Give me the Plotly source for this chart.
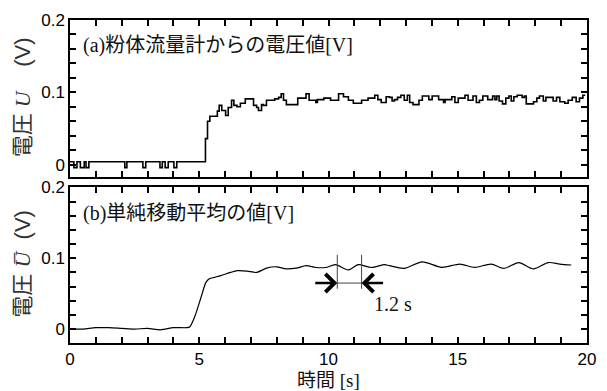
import plotly.graph_objects as go

# ---- data ----
# (a) powder flow meter voltage: step-wise signal, values hold until next time
t_flow = [0.00, 0.15, 0.27, 0.40, 0.55, 0.62, 0.73, 2.12, 2.20, 2.82, 2.93, 3.48, 3.57, 3.68, 3.80,
          4.02, 4.13, 5.24, 5.32, 5.41, 5.70, 5.77, 5.87, 6.02, 6.12, 6.25, 6.34, 6.46, 6.59, 6.78,
          7.10, 7.22, 7.29, 7.41, 7.48, 7.60, 7.92, 8.07, 8.17, 8.26, 8.37, 8.43, 8.81, 9.13, 9.25,
          9.51, 9.57, 9.82, 10.08, 10.39, 10.58, 10.77, 10.96, 11.28, 11.53, 11.79, 11.91, 12.04,
          12.23, 12.36, 12.46, 12.55, 12.67, 12.80, 12.93, 13.05, 13.14, 13.27, 13.50, 13.63, 13.88,
          14.01, 14.26, 14.45, 14.51, 14.77, 14.89, 15.02, 15.28, 15.40, 15.59, 15.72, 15.84, 15.97,
          16.16, 16.35, 16.44, 16.51, 16.60, 16.73, 16.86, 16.98, 17.07, 17.17, 17.30, 17.49, 17.58,
          17.65, 17.93, 18.06, 18.16, 18.31, 18.41, 18.69, 18.82, 18.95, 19.14, 19.27, 19.43, 19.58,
          19.71, 19.84, 19.93]
u_flow = [0.004, -0.004, 0.004, -0.004, 0.004, -0.004, 0.004, -0.004, 0.004, -0.004, 0.004, -0.004,
          0.004, -0.004, 0.004, -0.004, 0.004, 0.036, 0.060, 0.067, 0.074, 0.082, 0.075, 0.068, 0.079,
          0.089, 0.082, 0.080, 0.085, 0.091, 0.082, 0.079, 0.075, 0.083, 0.082, 0.089, 0.091, 0.093,
          0.098, 0.089, 0.083, 0.083, 0.092, 0.098, 0.089, 0.086, 0.090, 0.092, 0.089, 0.098, 0.094,
          0.089, 0.085, 0.089, 0.092, 0.096, 0.090, 0.086, 0.094, 0.093, 0.088, 0.090, 0.093, 0.096,
          0.089, 0.096, 0.086, 0.083, 0.089, 0.095, 0.090, 0.095, 0.090, 0.086, 0.090, 0.094, 0.086,
          0.092, 0.096, 0.089, 0.095, 0.086, 0.089, 0.095, 0.090, 0.095, 0.090, 0.095, 0.088, 0.084,
          0.092, 0.095, 0.088, 0.094, 0.096, 0.093, 0.095, 0.084, 0.087, 0.092, 0.095, 0.088, 0.093,
          0.088, 0.093, 0.087, 0.085, 0.089, 0.093, 0.087, 0.092, 0.096, 0.096]

# (b) simple moving average
t_avg = [0.0, 0.5, 1.0, 1.5, 2.0, 2.5, 3.0, 3.5, 4.0, 4.5, 4.63, 4.82, 5.07, 5.26, 5.39, 5.58, 5.83,
         6.21, 6.46, 6.84, 7.22, 7.60, 7.98, 8.37, 8.75, 9.13, 9.51, 9.89, 10.27, 10.77, 11.15, 11.66,
         12.17, 12.36, 12.93, 13.62, 14.38, 15.08, 15.65, 16.29, 16.79, 17.36, 17.93, 18.50, 18.95, 19.39]
u_avg = [0.000, 0.000, 0.002, 0.002, 0.001, 0.000, 0.001, -0.001, 0.002, 0.002, 0.003, 0.017, 0.045,
         0.066, 0.071, 0.073, 0.0755, 0.080, 0.0825, 0.082, 0.080, 0.086, 0.088, 0.085, 0.086, 0.0895,
         0.087, 0.087, 0.091, 0.0835, 0.091, 0.087, 0.091, 0.0895, 0.0858, 0.095, 0.0872, 0.0918, 0.0872,
         0.0918, 0.0858, 0.094, 0.0849, 0.094, 0.0918, 0.0905]

# tick positions and labels (major labelled, minor unlabelled)
x_ticks = [0, 1, 2, 3, 4, 5, 6, 7, 8, 9, 10, 11, 12, 13, 14, 15, 16, 17, 18, 19, 20]
x_ticklabels = ["0", "", "", "", "", "5", "", "", "", "", "10", "", "", "", "", "15",
                "", "", "", "", "20"]
y_ticks = [0, 0.02, 0.04, 0.06, 0.08, 0.1, 0.12, 0.14, 0.16, 0.18, 0.2]
y_ticklabels = ["0", "", "", "", "", "0.1", "", "", "", "", "0.2"]

# measurement marker in (b)
meas_t = [10.34, 11.28]
meas_y = 0.065
meas_top = 0.105
meas_bottom = 0.057
arrow_tail_left = 9.43
arrow_tail_right = 12.17
meas_label = "1.2 s"
meas_label_t = 11.70
meas_label_y = 0.036

SERIF = "Liberation Serif, 'Noto Sans CJK JP', serif"
SANS = "Liberation Sans, Arial, 'Noto Sans CJK JP', sans-serif"

fig = go.Figure()
fig.add_trace(go.Scatter(x=t_flow, y=u_flow, mode="lines",
                         line=dict(color="black", width=1.6, shape="hv"),
                         xaxis="x", yaxis="y", hoverinfo="skip"))
fig.add_trace(go.Scatter(x=t_avg, y=u_avg, mode="lines",
                         line=dict(color="black", width=1.2, shape="spline", smoothing=0.8),
                         xaxis="x2", yaxis="y2", hoverinfo="skip"))

common = dict(showline=True, linecolor="black", linewidth=1.5, mirror="ticks",
              ticks="inside", tickcolor="black", tickwidth=1.5, ticklen=6, showgrid=False,
              zeroline=False, tickfont=dict(family=SANS, size=17, color="black"))
XR = [0, 20]
YR1 = [-0.0164, 0.2]
YR2 = [-0.0196, 0.2]
D1 = [0.5153, 1]
D2 = [0, 0.4816]

fig.update_layout(
    width=607, height=391,
    margin=dict(l=70, r=11, t=17, b=48),
    paper_bgcolor="white", plot_bgcolor="white",
    showlegend=False,
    xaxis=dict(common, domain=[0, 1], anchor="y", range=XR, tickmode="array", tickvals=x_ticks,
               ticktext=x_ticklabels, showticklabels=False),
    yaxis=dict(common, domain=D1, anchor="x", range=YR1, tickmode="array",
               tickvals=y_ticks, ticktext=y_ticklabels),
    xaxis2=dict(common, domain=[0, 1], anchor="y2", range=XR, tickmode="array", tickvals=x_ticks,
                ticktext=x_ticklabels),
    yaxis2=dict(common, domain=D2, anchor="x2", range=YR2, tickmode="array",
                tickvals=y_ticks, ticktext=y_ticklabels),
)

# measurement lines
for tv in meas_t:
    fig.add_shape(type="line", xref="x2", yref="y2", x0=tv, x1=tv, y0=meas_bottom, y1=meas_top,
                  line=dict(color="#444", width=1))
fig.add_shape(type="line", xref="x2", yref="y2", x0=meas_t[0], x1=meas_t[1], y0=meas_y, y1=meas_y,
              line=dict(color="#444", width=1))

annotations = [
    dict(xref="paper", yref="paper", x=0.022, y=0.92, xanchor="left", yanchor="middle",
         text="(a)粉体流量計からの電圧値[V]", showarrow=False,
         font=dict(family=SERIF, size=20, color="#111")),
    dict(xref="paper", yref="paper", x=0.022, y=0.402, xanchor="left", yanchor="middle",
         text="(b)単純移動平均の値[V]", showarrow=False,
         font=dict(family=SERIF, size=20, color="#111")),
    dict(xref="paper", yref="paper", x=-0.0913, y=0.76, xanchor="center", yanchor="middle",
         textangle=-90, showarrow=False,
         text="電圧\u00a0<span style='font-family:Liberation Serif'><i>U</i></span>\u00a0\u00a0\u00a0\u00a0(V)",
         font=dict(family=SANS, size=22, color="#333")),
    dict(xref="paper", yref="paper", x=-0.0913, y=0.245, xanchor="center", yanchor="middle",
         textangle=-90, showarrow=False,
         text="電圧\u00a0<span style='font-family:Liberation Serif'><i>U\u0305</i></span>\u00a0\u00a0(V)",
         font=dict(family=SANS, size=22, color="#333")),
    dict(xref="paper", yref="paper", x=0.5, y=-0.1166, xanchor="center", yanchor="middle",
         text="時間 [s]", showarrow=False, font=dict(family=SERIF, size=19, color="#111")),
    dict(xref="x2", yref="y2", x=meas_label_t, y=meas_label_y, xanchor="left", yanchor="middle",
         text=meas_label, showarrow=False, font=dict(family=SERIF, size=20, color="#111")),
    dict(xref="x2", yref="y2", axref="x2", ayref="y2", x=meas_t[0], y=meas_y,
         ax=arrow_tail_left, ay=meas_y, text="", showarrow=True, arrowhead=4, arrowsize=1.35,
         arrowwidth=2.6, arrowcolor="black", standoff=0),
    dict(xref="x2", yref="y2", axref="x2", ayref="y2", x=meas_t[1], y=meas_y,
         ax=arrow_tail_right, ay=meas_y, text="", showarrow=True, arrowhead=4, arrowsize=1.35,
         arrowwidth=2.6, arrowcolor="black", standoff=0),
]
fig.update_layout(annotations=annotations)

fig.write_html("out.html")
